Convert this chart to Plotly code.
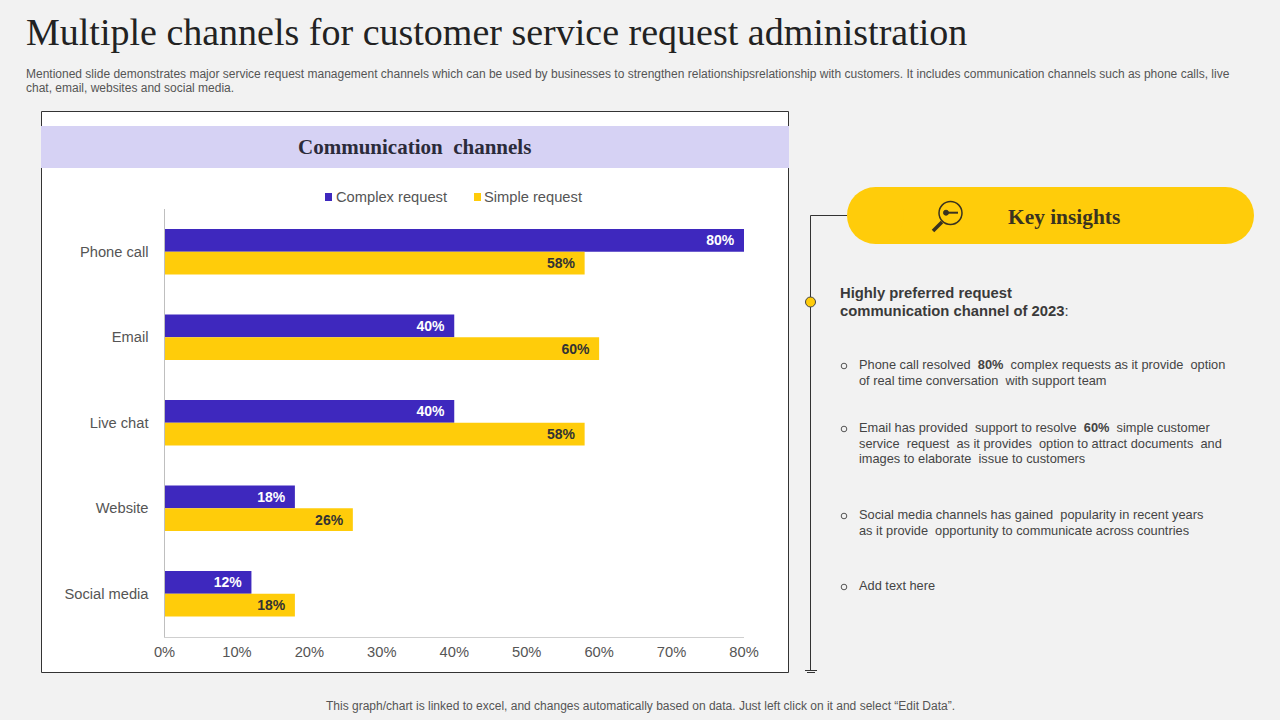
import plotly.graph_objects as go

W, H = 1280, 720

channels = ["Phone call", "Email", "Live chat", "Website", "Social media"]
complex_request = [80, 40, 40, 18, 12]
simple_request = [58, 60, 58, 26, 18]
x_ticks = [0, 10, 20, 30, 40, 50, 60, 70, 80]

title_text = "Multiple channels for customer service request administration"
sub_lines = [
    "Mentioned slide demonstrates major service request management channels which can be used by businesses to strengthen relationshipsrelationship with customers. It includes communication channels such as phone calls, live",
    "chat, email, websites and social media.",
]
footer_text = "This graph/chart is linked to excel, and changes automatically based on data. Just left click on it and select “Edit Data”."

BLUE = "#3E28BE"
YELLOW = "#FFCC0A"
DARK = "#333333"
GREY = "#555555"
SERIF = "Liberation Serif"
SANS = "Liberation Sans"


# pixel helpers, margins are zero so paper == window
def px(x):
    return x / W


def py(y):
    return 1 - y / H


def label(x, y, text, size, color=DARK, family=SANS, anchor="left"):
    fig.add_annotation(
        x=px(x), y=py(y), xref="paper", yref="paper", text=text, showarrow=False,
        xanchor=anchor, yanchor="middle", borderpad=0, borderwidth=0,
        font=dict(size=size, color=color, family=family),
    )


def rect(x0, y0, x1, y1, fill=None, line=None, width=1):
    fig.add_shape(
        type="rect", xref="paper", yref="paper", layer="below",
        x0=px(x0), y0=py(y0), x1=px(x1), y1=py(y1),
        fillcolor=fill, line=dict(color=line, width=width if line else 0),
    )


def seg(x0, y0, x1, y1, color=DARK, width=1, layer="above"):
    fig.add_shape(
        type="line", xref="paper", yref="paper", layer=layer,
        x0=px(x0), y0=py(y0), x1=px(x1), y1=py(y1),
        line=dict(color=color, width=width),
    )


def circle(cx, cy, r, fill=None, line=DARK, width=1):
    fig.add_shape(
        type="circle", xref="paper", yref="paper",
        x0=px(cx - r), y0=py(cy - r), x1=px(cx + r), y1=py(cy + r),
        fillcolor=fill if fill else "rgba(0,0,0,0)", line=dict(color=line, width=width),
    )


fig = go.Figure()

fig.add_trace(go.Bar(
    y=channels, x=complex_request, name="Complex request", orientation="h",
    marker=dict(color=BLUE, line_width=0),
    text=[f"<b>{v}%</b>\u00a0\u2009" for v in complex_request], textposition="inside",
    insidetextanchor="end", textangle=0, constraintext="none",
    textfont=dict(size=14, color="white", family=SANS),
))
fig.add_trace(go.Bar(
    y=channels, x=simple_request, name="Simple request", orientation="h",
    marker=dict(color=YELLOW, line_width=0),
    text=[f"<b>{v}%</b>\u00a0\u2009" for v in simple_request], textposition="inside",
    insidetextanchor="end", textangle=0, constraintext="none",
    textfont=dict(size=14, color=DARK, family=SANS),
))

fig.update_layout(
    width=W, height=H,
    margin=dict(l=0, r=0, t=0, b=0, autoexpand=False),
    paper_bgcolor="#F2F2F2",
    plot_bgcolor="rgba(0,0,0,0)",
    barmode="group", bargap=0.47, bargroupgap=0,
    showlegend=False,
    xaxis=dict(
        domain=[px(164.5), px(744)], range=[0, 80],
        tickvals=x_ticks, ticktext=[f"{v}%" for v in x_ticks],
        showgrid=False, zeroline=False, showline=True, linecolor="#CFCFCF", linewidth=1,
        ticks="", ticklabelstandoff=2, tickfont=dict(size=14.7, color=GREY, family=SANS),
    ),
    yaxis=dict(
        domain=[py(636.5), py(209)], autorange="reversed",
        showgrid=False, zeroline=False, showline=True, linecolor="#BFBFBF", linewidth=1,
        ticks="", ticklabelstandoff=12, tickfont=dict(size=14.7, color=GREY, family=SANS),
    ),
)

# chart panel
rect(41.5, 111.5, 788.5, 672.5, fill="white", line="#333333")
rect(41, 126, 789, 168, fill="#D6D2F4")
label(414, 147, "<b>Communication  channels</b>", 21, color="#2B2B3A", family=SERIF, anchor="center")

# legend
rect(325, 193, 332, 201, fill=BLUE)
label(336, 197, "Complex request", 14.7, color=GREY)
rect(474, 193, 481, 201, fill=YELLOW)
label(484, 197, "Simple request", 14.7, color=GREY)

# header and footer text
label(26, 32.5, title_text, 38, color="#222222", family=SERIF)
label(26, 74, sub_lines[0], 12, color=GREY)
label(26, 88, sub_lines[1], 12, color=GREY)
label(640, 706, footer_text, 12, color=GREY, anchor="center")

# key insights pill
rect(875.5, 187, 1225.5, 244, fill=YELLOW)
circle(875.5, 215.5, 28.5, fill=YELLOW, line=YELLOW, width=0)
circle(1225.5, 215.5, 28.5, fill=YELLOW, line=YELLOW, width=0)
label(1064, 217, "<b>Key insights</b>", 21.4, color="#3A3320", family=SERIF, anchor="center")

# magnifier icon
circle(950.5, 213, 11.5, line="#3A3320", width=1.5)
seg(942, 222, 933, 231, color="#3A3320", width=3.5)
seg(946, 212.7, 958, 212.7, color="#3A3320", width=2)
circle(946, 212.7, 2.5, fill="#3A3320", line="#3A3320")

# timeline
seg(810.5, 215.5, 847, 215.5)
seg(810.5, 215.5, 810.5, 671)
seg(805, 670.5, 817, 670.5)
seg(807, 672.5, 815, 672.5)
circle(810.5, 302, 5, fill=YELLOW, line="#444444")

# insights text
label(840, 292.5, "<b>Highly preferred request</b>", 14.8, color="#3A3A3A")
label(840, 310.5, "<b>communication channel of 2023</b>:", 14.8, color="#3A3A3A")

bullets = [
    [(364, "Phone call resolved  <b>80%</b>  complex requests as it provide  option"),
     (380, "of real time conversation  with support team")],
    [(427, "Email has provided  support to resolve  <b>60%</b>  simple customer"),
     (443, "service  request  as it provides  option to attract documents  and"),
     (459, "images to elaborate  issue to customers")],
    [(514, "Social media channels has gained  popularity in recent years"),
     (530, "as it provide  opportunity to communicate across countries")],
    [(585, "Add text here")],
]
for group in bullets:
    circle(844, group[0][0] + 2, 2.8, line="#555555")
    for y, line_text in group:
        label(859, y, line_text, 12.8, color="#444444")

fig.write_html(
    "out.html",
    config=dict(displayModeBar=False),
    post_script="document.body.style.margin='0';",
)
